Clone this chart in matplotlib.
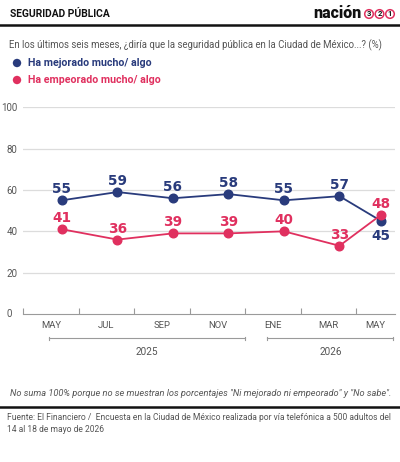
import matplotlib
matplotlib.use("Agg")
import matplotlib.pyplot as plt
import matplotlib.transforms as mtrans
from matplotlib.patches import Circle
import numpy as np

plt.rcParams['font.family'] = ['Roboto', 'DejaVu Sans']

# ---- data ----
months = ["MAY", "JUL", "SEP", "NOV", "ENE", "MAR", "MAY"]
survey_x = [0.7, 1.7, 2.7, 3.7, 4.7, 5.7, 6.45]
mejorado = [55, 59, 56, 58, 55, 57, 45]
empeorado = [41, 36, 39, 39, 40, 33, 48]
years = ["2025", "2026"]
year_spans = [(0.47, 4.0), (4.4, 6.67)]
yticks = [0, 20, 40, 60, 80, 100]
series_names = ["Ha mejorado mucho/ algo", "Ha empeorado mucho/ algo"]

NAVY = "#293b7c"
RED = "#e0305f"
GRAY = "#555555"

W, H = 400, 462
fig = plt.figure(figsize=(W / 100, H / 100), dpi=100)
fig.patch.set_facecolor("white")

def px(x, y):
    return x / W, 1 - y / H

# header
fig.text(*px(10, 14), "SEGURIDAD PÚBLICA", fontsize=7.4, fontweight="bold",
         color="#111111", va="center", ha="left")
fig.text(*px(362, 13), "nación", fontsize=11.5, fontweight="black",
         color="#111111", va="center", ha="right")
for i, d in enumerate(["3", "2", "1"]):
    cx, cy = px(369 + i * 10.5, 14)
    c = Circle((cx * W, cy * H), 4.3, transform=mtrans.IdentityTransform(),
               fill=False, edgecolor=RED, lw=1.1)
    fig.patches.append(c)
    fig.text(cx, cy, d, fontsize=5.5, fontweight="bold", color="#111111",
             va="center", ha="center")
fig.add_artist(plt.Line2D([0, 1], [1 - 24.5 / H] * 2, color="#111111", lw=1.8,
                          transform=fig.transFigure))

# subtitle
fig.text(*px(9, 45), "En los últimos seis meses, ¿diría que la seguridad pública en la Ciudad de México...? (%)",
         fontsize=6.9, color=GRAY, va="center", ha="left")

# legend
for i, (name, col) in enumerate(zip(series_names, [NAVY, RED])):
    yy = 63 + i * 17
    c = Circle((17, H - yy), 4.2, transform=mtrans.IdentityTransform(),
               facecolor=col, edgecolor="none")
    fig.patches.append(c)
    fig.text(*px(28, yy), name, fontsize=7.7, fontweight="bold", color=col,
             va="center", ha="left")

# axes
ax = fig.add_axes([23 / W, (H - 314) / H, 372 / W, 206.7 / H])
ax.set_xlim(0, 6.7)
ax.set_ylim(0, 100)
ax.set_facecolor("none")
for s in ["top", "right", "left"]:
    ax.spines[s].set_visible(False)
ax.spines["bottom"].set_color("#9a9a9a")
ax.spines["bottom"].set_linewidth(0.8)
ax.set_yticks(yticks[1:])
ax.yaxis.grid(True, color="#dcdcdc", lw=0.9)
ax.set_axisbelow(True)
ax.tick_params(axis="y", length=0, labelsize=7, labelcolor=GRAY, pad=4)
ax.set_yticklabels([str(v) for v in yticks[1:]])
ax.text(-0.2, 0, "0", transform=ax.transData, fontsize=7, color=GRAY,
        ha="right", va="center")

ax.set_xticks(np.arange(7))
ax.set_xticklabels([])
ax.tick_params(axis="x", direction="in", length=4, color="#9a9a9a", width=0.8)
label_x = [i + 0.5 for i in range(6)] + [6.35]
for lx, m in zip(label_x, months):
    ax.text(lx, -5.5, m, fontsize=6.8, color=GRAY, ha="center", va="center",
            transform=ax.transData)

ax.plot(survey_x, mejorado, color=NAVY, lw=1.3, marker="o", ms=6.2, zorder=3)
ax.plot(survey_x, empeorado, color=RED, lw=1.3, marker="o", ms=6.2, zorder=3)

lab_font = dict(family="DejaVu Sans", fontsize=9.8, fontweight="bold")
for i, (x, v) in enumerate(zip(survey_x, mejorado)):
    dy = -15 if i == len(mejorado) - 1 else 11
    ax.annotate(str(v), (x, v), xytext=(0, dy), textcoords="offset pixels",
                ha="center", va="center", color=NAVY, zorder=4, **lab_font)
for i, (x, v) in enumerate(zip(survey_x, empeorado)):
    ax.annotate(str(v), (x, v), xytext=(0, 11), textcoords="offset pixels",
                ha="center", va="center", color=RED, zorder=4, **lab_font)

# year brackets
tr = mtrans.blended_transform_factory(ax.transData, fig.transFigure)
yb = 1 - 338 / H
for (a, b), yr in zip(year_spans, years):
    ax.add_artist(plt.Line2D([a, b], [yb, yb], color="#9a9a9a", lw=0.8,
                             transform=tr, clip_on=False))
    for e in (a, b):
        ax.add_artist(plt.Line2D([e, e], [yb - 1.5 / H, yb + 1.5 / H], color="#9a9a9a",
                                 lw=0.8, transform=tr, clip_on=False))
    fig.text((a + b) / 2, 1 - 352 / H, yr, transform=tr, fontsize=7.2,
             color=GRAY, ha="center", va="center")

# footnote
fig.text(*px(201, 394), 'No suma 100% porque no se muestran los porcentajes "Ni mejorado ni empeorado" y "No sabe".',
         fontsize=6.65, style="italic", color=GRAY, ha="center", va="center")
fig.add_artist(plt.Line2D([0, 1], [1 - 407 / H] * 2, color="#111111", lw=1.8,
                          transform=fig.transFigure))
fig.text(*px(7, 417), "Fuente: El Financiero /  Encuesta en la Ciudad de México realizada por vía telefónica a 500 adultos del",
         fontsize=6.15, color=GRAY, ha="left", va="center")
fig.text(*px(7, 430), "14 al 18 de mayo de 2026", fontsize=6.15, color=GRAY,
         ha="left", va="center")

fig.savefig("out.png", dpi=100, facecolor="white")
